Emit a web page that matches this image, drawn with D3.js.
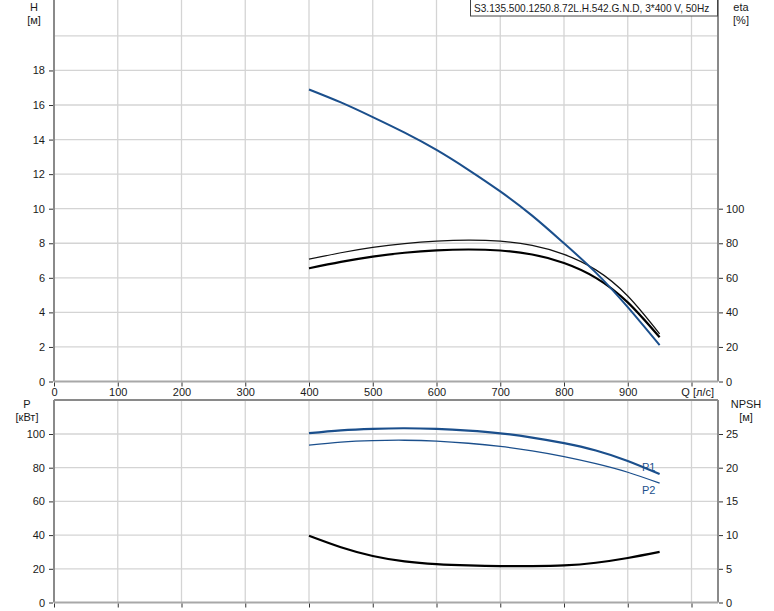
<!DOCTYPE html>
<html><head><meta charset="utf-8">
<script src="https://cdn.jsdelivr.net/npm/d3@7"></script>
<style>body{margin:0;background:#fff}svg{display:block;font-family:"Liberation Sans",Arial,sans-serif}</style>
</head><body>
<script>
// ---- data ----
const qTicks = [0,100,200,300,400,500,600,700,800,900];
const hTicks = [0,2,4,6,8,10,12,14,16,18];
const etaTicks = [0,20,40,60,80,100];
const pTicks = [0,20,40,60,80,100];
const npshTicks = [0,5,10,15,20,25];
const title = "S3.135.500.1250.8.72L.H.542.G.N.D, 3*400 V, 50Hz";

const Q = [400,450,500,550,600,650,700,750,800,850,900,950];
const H = [16.9,16.15,15.3,14.4,13.4,12.25,11.0,9.6,8.0,6.3,4.3,2.1];
const etaUpper = [70.8,74.5,77.6,79.8,81.2,81.8,81.2,78.8,73.6,64.6,49.5,27.6];
const etaLower = [65.5,69.2,72.3,74.5,75.9,76.4,75.8,73.5,68.6,60.0,45.8,25.6];
const P1 = [100.5,102.2,103.1,103.4,103.0,102.0,100.4,97.9,94.6,90.2,84.0,76.2];
const P2 = [93.4,95.2,96.1,96.3,95.8,94.5,92.6,90.0,86.6,82.4,77.3,70.8];
const NPSH = [9.9,8.2,6.9,6.1,5.7,5.5,5.4,5.4,5.5,5.9,6.6,7.5];

(function(){
const W = 774, Ht = 611;
const svg = d3.select("body").append("svg").attr("width",W).attr("height",Ht);

const xL = 54, xR = 718;
const x = d3.scaleLinear().domain([0,1000]).range([xL, xL+637.5]);
const pTop = {y0:0, y1:381.5};
const pBot = {y0:400, y1:602.5};
const yH = d3.scaleLinear().domain([0,20]).range([381.5, 35.9]);
const yEta = d3.scaleLinear().domain([0,100]).range([381.5, 208.7]);
const yP = d3.scaleLinear().domain([0,100]).range([602.5, 434]);
const yN = d3.scaleLinear().domain([0,25]).range([602.5, 434]);

const gridC = "#d4d4d4", axC = "#8a8a8a", txt = "#1a1a1a", blue = "#1b4f8c";
const fs = 11;

function grid(y0,y1,hLines,yScale){
  const g = svg.append("g").attr("stroke",gridC).attr("stroke-width",1.3);
  [100,200,300,400,500,600,700,800,900,1000].forEach(q=>{
    g.append("line").attr("x1",x(q)).attr("x2",x(q)).attr("y1",y0).attr("y2",y1);
  });
  hLines.forEach(v=>{
    g.append("line").attr("x1",xL).attr("x2",xR).attr("y1",yScale(v)).attr("y2",yScale(v));
  });
}
grid(pTop.y0, pTop.y1, [2,4,6,8,10,12,14,16,18,20], yH);
grid(pBot.y0, pBot.y1, [20,40,60,80,100], yP);

function frame(y0,y1,drawTop){
  const g = svg.append("g").attr("stroke",axC).attr("stroke-width",2);
  g.append("line").attr("x1",xL).attr("x2",xL).attr("y1",y0).attr("y2",y1);
  g.append("line").attr("x1",xR).attr("x2",xR).attr("y1",y0).attr("y2",y1);
  g.append("line").attr("x1",xL).attr("x2",xR).attr("y1",y1).attr("y2",y1).attr("stroke","#a8a8a8");
  if(drawTop) g.append("line").attr("x1",xL).attr("x2",xR).attr("y1",y0).attr("y2",y0);
}
frame(pTop.y0, pTop.y1, false);
frame(pBot.y0, pBot.y1, true);

function styleAxis(a){
  a.select(".domain").remove();
  a.selectAll("line").attr("stroke","#333");
  a.selectAll("text").attr("fill",txt).style("font-size",fs+"px").style("font-family","Liberation Sans, Arial, sans-serif");
}
function leftAxis(scale, ticks){
  const a = svg.append("g").attr("transform",`translate(${xL-1},0)`)
    .call(d3.axisLeft(scale).tickValues(ticks).tickSize(4).tickPadding(4).tickFormat(d3.format("d")));
  styleAxis(a);
}
function rightAxis(scale, ticks){
  const a = svg.append("g").attr("transform",`translate(${xR+1},0)`)
    .call(d3.axisRight(scale).tickValues(ticks).tickSize(4).tickPadding(3).tickFormat(d3.format("d")));
  styleAxis(a);
}
leftAxis(yH, hTicks);
rightAxis(yEta, etaTicks);
leftAxis(yP, pTicks);
rightAxis(yN, npshTicks);

const xa = svg.append("g").attr("transform",`translate(0,${pTop.y1+1})`)
  .call(d3.axisBottom(x).tickValues(qTicks.concat([1000])).tickSize(4).tickPadding(2).tickFormat(d=> d===1000?"":d3.format("d")(d)));
styleAxis(xa);
const xb = svg.append("g").attr("transform",`translate(0,${pBot.y1+1})`)
  .call(d3.axisBottom(x).tickValues(qTicks.concat([1000])).tickSize(4).tickFormat(""));
styleAxis(xb);

function label(t,xx,yy,anchor){
  svg.append("text").attr("x",xx).attr("y",yy).attr("text-anchor",anchor||"middle")
    .attr("fill",txt).style("font-size",fs+"px").text(t);
}
label("H",34,11); label("[м]",34,24);
label("eta",741,11); label("[%]",741,24);
label("Q [л/с]",714,396,"end");
label("P",27,408); label("[кВт]",27,421);
label("NPSH",746,408); label("[м]",746,421);

svg.append("rect").attr("x",470.5).attr("y",-1).attr("width",247).attr("height",17)
  .attr("fill","#fff").attr("stroke","#444").attr("stroke-width",1);
svg.append("text").attr("x",474).attr("y",12).attr("fill",txt).style("font-size","10.1px")
  .text(title);

function curve(vals, yScale, color, w){
  const line = d3.line().x((d,i)=>x(Q[i])).y(d=>yScale(d)).curve(d3.curveNatural);
  svg.append("path").datum(vals).attr("d",line).attr("fill","none")
    .attr("stroke",color).attr("stroke-width",w);
}
curve(etaUpper, yEta, "#111", 1.2);
curve(etaLower, yEta, "#000", 2.2);
curve(H, yH, blue, 2);
curve(P1, yP, blue, 2.2);
curve(P2, yP, blue, 1.3);
curve(NPSH, yN, "#000", 2.2);

svg.append("text").attr("x",642).attr("y",471).attr("fill",blue).style("font-size",fs+"px").text("P1");
svg.append("text").attr("x",642).attr("y",494).attr("fill",blue).style("font-size",fs+"px").text("P2");
})();
</script>
</body></html>
